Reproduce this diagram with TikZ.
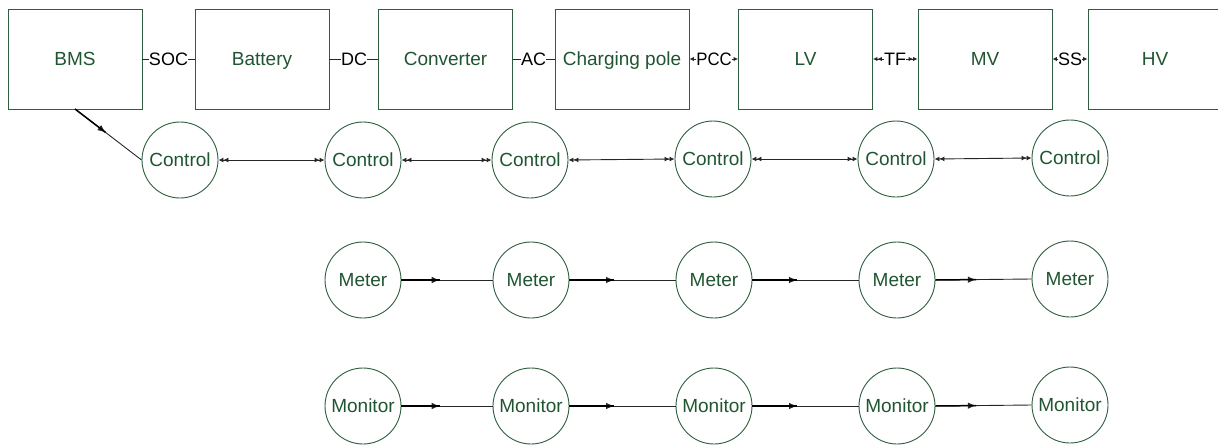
\documentclass[tikz,border=0pt]{standalone}
\usepackage{fontspec}
\setmainfont{Liberation Sans}
\usetikzlibrary{arrows.meta,decorations.markings,calc}
\definecolor{bordergreen}{HTML}{2E5E3E}
\definecolor{textgreen}{HTML}{1F5530}
\tikzset{
  txt/.style={font=\fontsize{19}{21}\selectfont, text height=16.5pt, text depth=4pt},
  blk/.style={txt, draw=bordergreen, line width=0.9pt, minimum width=134pt, minimum height=100pt, inner sep=0pt, text=textgreen},
  circ/.style={txt, draw=bordergreen, line width=0.9pt, circle, minimum size=76pt, inner sep=0pt, text=textgreen},
  lbl/.style={font=\fontsize{18}{20}\selectfont, text height=16pt, text depth=4pt, inner sep=0pt, text=black},
  conn/.style={line width=0.9pt, draw=black!85},
  tip/.tip={Latex[length=4.5pt,width=4.5pt]},
  ctip/.tip={Latex[length=5pt,width=5pt]},
  dbl/.style={conn, {ctip[]ctip[]}-{ctip[]ctip[]}},
  midarrow/.style={conn, decoration={markings, mark=at position #1 with {\arrow{Latex[length=8pt,width=6.5pt]}}}, postaction={decorate}},
}
\newcommand{\flow}[3]{%
  \draw[midarrow=#3] (#1.east) -- (#2.west);
  \draw[line width=1.5pt, draw=black] (#1.east) -- ($(#1.east)!#3!(#2.west)$);
}
\begin{document}
\begin{tikzpicture}[x=1pt,y=-1pt]
\useasboundingbox (0,0) rectangle (1218,445);
% top blocks
\node[blk] (bms) at (75,59) {BMS};
\node[blk] (bat) at (262,59) {Battery};
\node[blk] (conv) at (445.5,59) {Converter};
\node[blk] (pole) at (622,59) {Charging pole};
\node[blk] (lv) at (805.5,59) {LV};
\node[blk] (mv) at (985,59) {MV};
\node[blk] (hv) at (1155,59) {HV};
% labels
\node[lbl] (soc) at (168.5,59) {SOC};
\node[lbl] (dc) at (354,59) {DC};
\node[lbl] (ac) at (533.5,59) {AC};
\node[lbl, xscale=0.93] (pcc) at (714,59) {PCC};
\node[lbl] (tf) at (895,59) {TF};
\node[lbl] (ss) at (1070,59) {SS};
\draw[conn] (bms.east) -- (soc.west);
\draw[conn] (soc.east) -- (bat.west);
\draw[conn] (bat.east) -- (dc.west);
\draw[conn] (dc.east) -- (conv.west);
\draw[conn] (conv.east) -- (ac.west);
\draw[conn] (ac.east) -- (pole.west);
\draw[conn,-{tip[]}] (pcc.west) -- (pole.east);
\draw[conn,-{tip[]}] (pcc.east) -- (lv.west);
\draw[conn,-{tip[]tip[]}] (tf.west) -- (lv.east);
\draw[conn,-{tip[]tip[]}] (tf.east) -- (mv.west);
\draw[conn,-{tip[]}] (ss.west) -- (mv.east);
\draw[conn,-{tip[]}] (ss.east) -- (hv.west);
% control row
\node[circ] (c1) at (180,160) {Control};
\node[circ] (c2) at (363,160) {Control};
\node[circ] (c3) at (530,160) {Control};
\node[circ] (c4) at (713,159) {Control};
\node[circ] (c5) at (896,159) {Control};
\node[circ] (c6) at (1070,158) {Control};
\coordinate (bmsb) at (75,109);
\draw[midarrow=0.46] (bmsb) -- (c1.west);
\draw[line width=1.5pt] (bmsb) -- ($(bmsb)!0.46!(c1.west)$);
\draw[dbl] (c1.east) -- (c2.west);
\draw[dbl] (c2.east) -- (c3.west);
\draw[dbl] (c3.east) -- (c4.west);
\draw[dbl] (c4.east) -- (c5.west);
\draw[dbl] (c5.east) -- (c6.west);
% meter row
\node[circ] (m1) at (363,280) {Meter};
\node[circ] (m2) at (531,280) {Meter};
\node[circ] (m3) at (714,280) {Meter};
\node[circ] (m4) at (897,280) {Meter};
\node[circ] (m5) at (1070,279) {Meter};
\flow{m1}{m2}{0.42}
\flow{m2}{m3}{0.42}
\flow{m3}{m4}{0.42}
\flow{m4}{m5}{0.42}
% monitor row
\node[circ] (n1) at (363,406) {Monitor};
\node[circ] (n2) at (531,406) {Monitor};
\node[circ] (n3) at (714,406) {Monitor};
\node[circ] (n4) at (897,406) {Monitor};
\node[circ] (n5) at (1070,405) {Monitor};
\flow{n1}{n2}{0.42}
\flow{n2}{n3}{0.42}
\flow{n3}{n4}{0.42}
\flow{n4}{n5}{0.42}
\end{tikzpicture}
\end{document}
